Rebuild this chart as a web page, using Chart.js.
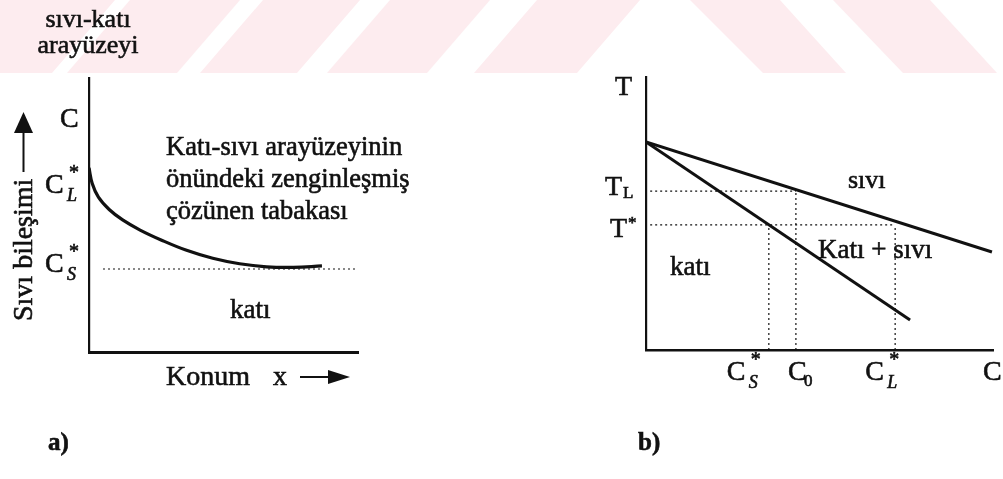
<!DOCTYPE html>
<html>
<head>
<meta charset="utf-8">
<script src="https://cdn.jsdelivr.net/npm/chart.js@4"></script>
<style>
  html, body { margin: 0; padding: 0; background: #fff; }
  #wrap { position: relative; width: 1003px; height: 479px; overflow: hidden; background: #fff; }
  #wrap svg, #wrap canvas { position: absolute; left: 0; top: 0; }
</style>
</head>
<body>
<div id="wrap">
  <svg width="1003" height="479" viewBox="0 0 1003 479">
    <g fill="#fdecef">
      <polygon points="-30,0 115,0 52,73 -93,73"/>
      <polygon points="130,0 240,0 177,73 67,73"/>
      <polygon points="263,0 360,0 297,73 200,73"/>
      <polygon points="390,0 490,0 427,73 327,73"/>
      <polygon points="537,0 640,0 577,73 474,73"/>
      <polygon points="690,0 780,0 846,73 763,73"/>
      <polygon points="833,0 930,0 997,73 903,73"/>
    </g>
  </svg>
  <canvas id="chartA" width="1003" height="479"></canvas>
  <canvas id="chartB" width="1003" height="479"></canvas>
</div>
<script>
// ---- Panel a: liquid composition ahead of the solid-liquid interface ----
const positionX  = [0, 1.2, 3.5, 7.5, 12.5, 19, 27, 36, 46, 56, 66, 76, 86.6];
const liquidComp = [67.2, 61.5, 56.5, 52.0, 48.2, 44.5, 40.8, 37.2, 34.2, 32.2, 31.1, 30.9, 31.4];
const solidLevel = 30.3;            // C*S
const solidLineX = [5.2, 100];

// ---- Panel b: phase diagram ----
const liquidusC = [0, 99.7];
const liquidusT = [76.2, 35.9];
const solidusC  = [0, 76.1];
const solidusT  = [76.2, 11.0];
const levelT    = [58.2, 45.8];       // T_L, T*
const compMarks = [35.4, 43.2, 71.8]; // C*S, C0, C*L

const INK = '#111';
const SERIF = '"Liberation Serif", "Times New Roman", serif';
const dotted = { borderColor: INK, borderWidth: 1.2, borderDash: [2, 3], pointRadius: 0, fill: false };

function pts(xs, ys) { return xs.map((x, i) => ({ x: x, y: ys[i] })); }

function axisScales(wx, wy) {
  const base = (w) => ({
    type: 'linear', min: 0, max: 100,
    grid: { display: false, drawTicks: false },
    ticks: { display: false },
    border: { display: true, color: INK, width: w }
  });
  return { x: base(wx), y: base(wy) };
}

function txt(ctx, s, x, y, size, opt) {
  opt = opt || {};
  ctx.font = (opt.italic ? 'italic ' : '') + (opt.bold ? 'bold ' : '') + size + 'px ' + SERIF;
  ctx.fillStyle = INK;
  ctx.strokeStyle = INK;
  ctx.lineWidth = 0.6;
  ctx.textAlign = opt.align || 'left';
  ctx.textBaseline = 'alphabetic';
  ctx.fillText(s, x, y);
  ctx.strokeText(s, x, y);
}

// "C" with a superscript star and an italic subscript letter
function starC(ctx, x, y, sub) {
  txt(ctx, 'C', x, y, 28);
  txt(ctx, '*', x + 24, y - 14, 20);
  txt(ctx, sub, x + 22, y + 8, 18, { italic: true });
}

const labelsA = {
  id: 'labelsA',
  afterDraw(chart) {
    const ctx = chart.ctx, xs = chart.scales.x, ys = chart.scales.y;
    const left = xs.left;
    ctx.save();
    // interface label
    txt(ctx, 'sıvı-katı', 88, 27, 26, { align: 'center' });
    txt(ctx, 'arayüzeyi', 88, 53, 26, { align: 'center' });
    // axis labels
    txt(ctx, 'C', left - 29, ys.top + 49, 28);
    starC(ctx, left - 44, ys.getPixelForValue(liquidComp[0]) + 25, 'L');
    starC(ctx, left - 44, ys.getPixelForValue(solidLevel) + 3, 'S');
    // enriched solute layer description
    txt(ctx, 'Katı-sıvı arayüzeyinin', 166, 155, 26.5);
    txt(ctx, 'önündeki zenginleşmiş', 166, 187, 26.5);
    txt(ctx, 'çözünen tabakası', 166, 219, 26.5);
    txt(ctx, 'katı', 230, 318, 27);
    // x axis title with arrow
    txt(ctx, 'Konum', 166, 385, 28);
    txt(ctx, 'x', 273, 385, 28);
    ctx.strokeStyle = INK; ctx.fillStyle = INK; ctx.lineWidth = 2;
    ctx.beginPath(); ctx.moveTo(300, 377); ctx.lineTo(334, 377); ctx.stroke();
    ctx.beginPath(); ctx.moveTo(350, 377); ctx.lineTo(328, 370); ctx.lineTo(328, 384); ctx.closePath(); ctx.fill();
    // y axis title with arrow
    ctx.save();
    ctx.translate(32, 321);
    ctx.rotate(-Math.PI / 2);
    txt(ctx, 'Sıvı bileşimi', 0, 0, 28);
    ctx.restore();
    ctx.strokeStyle = INK; ctx.lineWidth = 2;
    ctx.beginPath(); ctx.moveTo(23.5, 172); ctx.lineTo(23.5, 128); ctx.stroke();
    ctx.beginPath(); ctx.moveTo(23.5, 112); ctx.lineTo(14, 133); ctx.lineTo(33, 133); ctx.closePath(); ctx.fill();
    txt(ctx, 'a)', 48, 450, 25, { bold: true });
    ctx.restore();
  }
};

new Chart(document.getElementById('chartA'), {
  type: 'line',
  data: {
    datasets: [
      { data: pts(positionX, liquidComp), borderColor: INK, borderWidth: 3.2, pointRadius: 0,
        tension: 0.4, fill: false },
      Object.assign({ data: pts(solidLineX, [solidLevel, solidLevel]) }, dotted)
    ]
  },
  options: {
    responsive: false, animation: false, events: [],
    layout: { padding: { left: 89, top: 78, right: 645, bottom: 127 } },
    plugins: { legend: { display: false }, tooltip: { enabled: false } },
    scales: axisScales(3, 2.2)
  },
  plugins: [labelsA]
});

const labelsB = {
  id: 'labelsB',
  afterDraw(chart) {
    const ctx = chart.ctx, xs = chart.scales.x, ys = chart.scales.y;
    const left = xs.left, bottom = ys.bottom;
    ctx.save();
    txt(ctx, 'T', left - 31, ys.top + 18, 28);
    // temperature marks
    const yTL = ys.getPixelForValue(levelT[0]);
    txt(ctx, 'T', left - 41, yTL + 4, 28);
    txt(ctx, 'L', left - 23, yTL + 7, 17);
    const yTS = ys.getPixelForValue(levelT[1]);
    txt(ctx, 'T', left - 36, yTS + 12, 28);
    txt(ctx, '*', left - 18, yTS + 3, 17);
    // composition marks
    const by = bottom + 30;
    starC(ctx, xs.getPixelForValue(compMarks[0]) - 42, by, 'S');
    txt(ctx, 'C', xs.getPixelForValue(compMarks[1]) - 8, by, 28);
    txt(ctx, '0', xs.getPixelForValue(compMarks[1]) + 8, by + 6, 17);
    starC(ctx, xs.getPixelForValue(compMarks[2]) - 30, by, 'L');
    txt(ctx, 'C', xs.right - 10, by, 28);
    // region labels
    txt(ctx, 'sıvı', 848, 188, 26);
    txt(ctx, 'Katı + sıvı', 818, 258, 27);
    txt(ctx, 'katı', 670, 275, 27);
    txt(ctx, 'b)', 638, 450, 25, { bold: true });
    ctx.restore();
  }
};

new Chart(document.getElementById('chartB'), {
  type: 'line',
  data: {
    datasets: [
      { data: pts(liquidusC, liquidusT), borderColor: INK, borderWidth: 3, pointRadius: 0, fill: false },
      { data: pts(solidusC, solidusT), borderColor: INK, borderWidth: 3, pointRadius: 0, fill: false },
      Object.assign({ data: [{ x: 1.2, y: levelT[0] }, { x: compMarks[1], y: levelT[0] }] }, dotted),
      Object.assign({ data: [{ x: 1.2, y: levelT[1] }, { x: compMarks[2], y: levelT[1] }] }, dotted),
      Object.assign({ data: [{ x: compMarks[0], y: 0 }, { x: compMarks[0], y: levelT[1] }] }, dotted),
      Object.assign({ data: [{ x: compMarks[1], y: 0 }, { x: compMarks[1], y: levelT[0] }] }, dotted),
      Object.assign({ data: [{ x: compMarks[2], y: 0 }, { x: compMarks[2], y: levelT[1] }] }, dotted)
    ]
  },
  options: {
    responsive: false, animation: false, events: [],
    layout: { padding: { left: 646, top: 77, right: 10, bottom: 129 } },
    plugins: { legend: { display: false }, tooltip: { enabled: false } },
    scales: axisScales(2.5, 2.2)
  },
  plugins: [labelsB]
});
</script>
</body>
</html>
